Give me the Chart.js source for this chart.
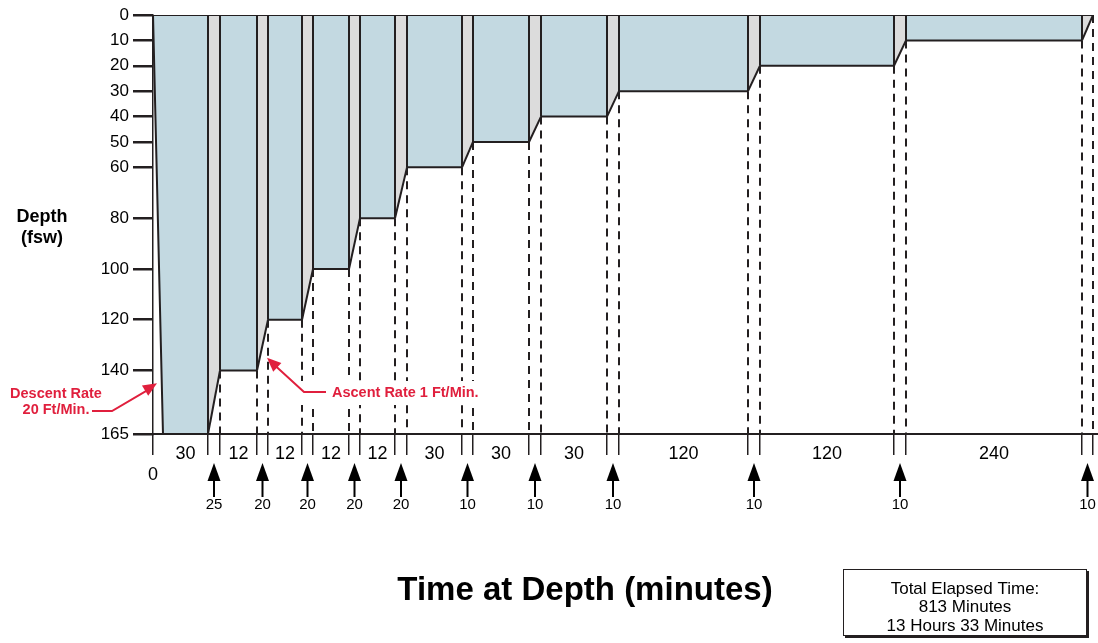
<!DOCTYPE html>
<html lang="en">
<head>
<meta charset="UTF-8">
<title>Decompression Schedule Profile</title>
<script src="https://cdn.jsdelivr.net/npm/chart.js"></script>
<style>
  body { margin: 0; background: #fff; }
  #wrap { width: 1098px; height: 643px; position: relative; }
</style>
</head>
<body>
<div id="wrap"><canvas id="profileChart"></canvas></div>
<script>
// schedule stops: depth (fsw) and time held there (minutes)
const stopDepths = [165, 140, 120, 100, 80, 60, 50, 40, 30, 20, 10];
const stopTimes = [30, 12, 12, 12, 12, 30, 30, 30, 120, 120, 240];
// travel time to the next stop (1 ft/min)
const ascentTimes = [25, 20, 20, 20, 20, 10, 10, 10, 10, 10, 10];
const depthTicks = [0, 10, 20, 30, 40, 50, 60, 80, 100, 120, 140, 165];
// time axis is not to scale - drawn span of each phase in schematic units
const descentSpan = 10;
const stopSpans = [45, 37, 34, 36, 35, 55, 56, 66, 129, 134, 176];
const ascentSpans = [12, 11, 11, 11, 12, 11, 12, 12, 12, 12, 11];
const totalLines = ['Total Elapsed Time:', '813 Minutes', '13 Hours 33 Minutes'];

const ink = '#231F20';
const red = '#E01F3D';
const blue = '#C3D9E1';
const grey = '#DCDCDC';
const family = "'Liberation Sans', Arial, sans-serif";

// build the profile line and the stage boundaries
const profile = [{ x: 0, y: 0 }];
let t = descentSpan;
profile.push({ x: t, y: stopDepths[0] });
const stopStart = [], stopEnd = [];
stopDepths.forEach((d, i) => {
    stopStart.push(t);
    t += stopSpans[i];
    stopEnd.push(t);
    profile.push({ x: t, y: d });
    t += ascentSpans[i];
    profile.push({ x: t, y: i + 1 < stopDepths.length ? stopDepths[i + 1] : 0 });
});
const totalSpan = t;

// boundaries: [x, depth of profile there]
const bounds = [];
stopDepths.forEach((d, i) => {
    bounds.push([stopEnd[i], d]);
    bounds.push([stopEnd[i] + ascentSpans[i], i + 1 < stopDepths.length ? stopDepths[i + 1] : 0]);
});
const maxDepth = stopDepths[0];

// solid walls from surface down to the profile, dashed from profile to bottom
const walls = [], drops = [];
bounds.forEach(([bx, d]) => {
    if (d > 0) walls.push({ x: bx, y: 0 }, { x: bx, y: d }, { x: bx, y: null });
    if (d < maxDepth) drops.push({ x: bx, y: d }, { x: bx, y: maxDepth }, { x: bx, y: null });
});
const timeMarks = [0].concat(bounds.map(b => b[0]));

function arrowHead(ctx, fx, fy, tx, ty, len, half) {
    const a = Math.atan2(ty - fy, tx - fx);
    const bx = tx - len * Math.cos(a), by = ty - len * Math.sin(a);
    ctx.beginPath();
    ctx.moveTo(tx, ty);
    ctx.lineTo(bx + half * Math.sin(a), by - half * Math.cos(a));
    ctx.lineTo(bx - half * Math.sin(a), by + half * Math.cos(a));
    ctx.closePath();
    ctx.fill();
}

const overlay = {
    id: 'overlay',
    afterDraw(chart) {
        const { ctx, scales: { x, y } } = chart;
        ctx.save();
        ctx.textAlign = 'center';
        ctx.textBaseline = 'middle';
        ctx.fillStyle = '#000';

        // minutes at each stop
        ctx.font = '18px ' + family;
        stopTimes.forEach((m, i) => {
            ctx.fillText(String(m), x.getPixelForValue((stopStart[i] + stopEnd[i]) / 2), 454);
        });
        ctx.fillText('0', x.getPixelForValue(0), 475);

        // ascent arrows with travel minutes
        ascentTimes.forEach((m, i) => {
            const px = x.getPixelForValue(stopEnd[i] + ascentSpans[i] / 2);
            ctx.fillStyle = '#000';
            ctx.beginPath();
            ctx.moveTo(px, 463);
            ctx.lineTo(px + 6.5, 481);
            ctx.lineTo(px - 6.5, 481);
            ctx.closePath();
            ctx.fill();
            ctx.fillRect(px - 1, 480, 2, 17);
            ctx.font = '15px ' + family;
            ctx.fillText(String(m), px, 505);
        });

        // y axis title
        ctx.font = 'bold 18px ' + family;
        ctx.fillText('Depth', 42, 217);
        ctx.fillText('(fsw)', 42, 238);

        // red annotations
        ctx.strokeStyle = red;
        ctx.lineWidth = 2;
        ctx.font = 'bold 14.5px ' + family;
        ctx.fillStyle = red;
        ctx.fillText('Descent Rate', 56, 394);
        ctx.fillText('20 Ft/Min.', 56, 410);
        let tx = x.getPixelForValue(0) + 4, ty = y.getPixelForValue(145);
        ctx.beginPath();
        ctx.moveTo(92, 411);
        ctx.lineTo(112, 411);
        ctx.lineTo(tx - 6, ty + 5);
        ctx.stroke();
        arrowHead(ctx, 112, 411, tx, ty, 14, 6);

        // white knock-out behind the ascent note so the dashes break
        ctx.textAlign = 'left';
        const w = ctx.measureText('Ascent Rate 1 Ft/Min.').width;
        ctx.fillStyle = '#fff';
        ctx.fillRect(296, 381, w + 44, 24);
        ctx.fillStyle = red;
        ctx.fillText('Ascent Rate 1 Ft/Min.', 332, 393);
        tx = x.getPixelForValue(stopEnd[1]) + 10;
        ty = y.getPixelForValue(135);
        ctx.beginPath();
        ctx.moveTo(326, 392);
        ctx.lineTo(304, 392);
        ctx.lineTo(tx + 5, ty + 5);
        ctx.stroke();
        arrowHead(ctx, 304, 392, tx, ty, 14, 6);

        // x axis title
        ctx.textAlign = 'center';
        ctx.fillStyle = '#000';
        ctx.font = 'bold 33px ' + family;
        ctx.fillText('Time at Depth (minutes)', 585, 591);

        // total time box with shadow
        ctx.fillStyle = ink;
        ctx.fillRect(845, 571, 244, 67);
        ctx.fillStyle = '#fff';
        ctx.fillRect(843, 569, 244, 67);
        ctx.strokeStyle = ink;
        ctx.lineWidth = 1;
        ctx.strokeRect(843.5, 569.5, 243, 66);
        ctx.fillStyle = '#000';
        ctx.font = '17px ' + family;
        totalLines.forEach((s, i) => ctx.fillText(s, 965, 589 + i * 18.5));
        ctx.restore();
    }
};

new Chart(document.getElementById('profileChart'), {
    type: 'line',
    data: {
        datasets: [
            {
                data: profile,
                borderColor: ink,
                borderWidth: 2,
                fill: 'origin',
                backgroundColor: blue,
                segment: {
                    backgroundColor: c => (c.p0DataIndex >= 2 && c.p0DataIndex % 2 === 0 ? grey : blue)
                }
            },
            { data: walls, borderColor: ink, borderWidth: 2, fill: false },
            { data: drops, borderColor: ink, borderWidth: 2, borderDash: [8, 6], fill: false },
            { data: [{ x: 0, y: 0 }, { x: totalSpan, y: 0 }], borderColor: ink, borderWidth: 2, fill: false }
        ]
    },
    options: {
        responsive: true,
        maintainAspectRatio: false,
        animation: false,
        layout: { padding: { top: 15, left: 0, right: 0, bottom: 0 } },
        elements: { point: { radius: 0, hoverRadius: 0 }, line: { tension: 0 } },
        plugins: {
            legend: { display: false },
            tooltip: { enabled: false },
            filler: { drawTime: 'beforeDatasetsDraw' }
        },
        scales: {
            x: {
                type: 'linear',
                min: 0,
                max: totalSpan + 5,
                afterBuildTicks: s => { s.ticks = timeMarks.map(v => ({ value: v })); },
                afterFit: s => { s.height = 209; },
                ticks: { display: false },
                grid: { drawOnChartArea: false, drawTicks: true, tickLength: 21, color: ink, lineWidth: 1.5 },
                border: { display: true, color: ink, width: 2 }
            },
            y: {
                type: 'linear',
                reverse: true,
                min: 0,
                max: 165,
                afterBuildTicks: s => { s.ticks = depthTicks.map(v => ({ value: v })); },
                afterFit: s => { s.width = 153; },
                ticks: { color: '#000', font: { family: family, size: 17 }, padding: 4 },
                grid: { drawOnChartArea: false, tickLength: 20, color: ink, lineWidth: 2.5 },
                border: { display: true, color: ink, width: 1.5 }
            }
        }
    },
    plugins: [overlay]
});
</script>
</body>
</html>
